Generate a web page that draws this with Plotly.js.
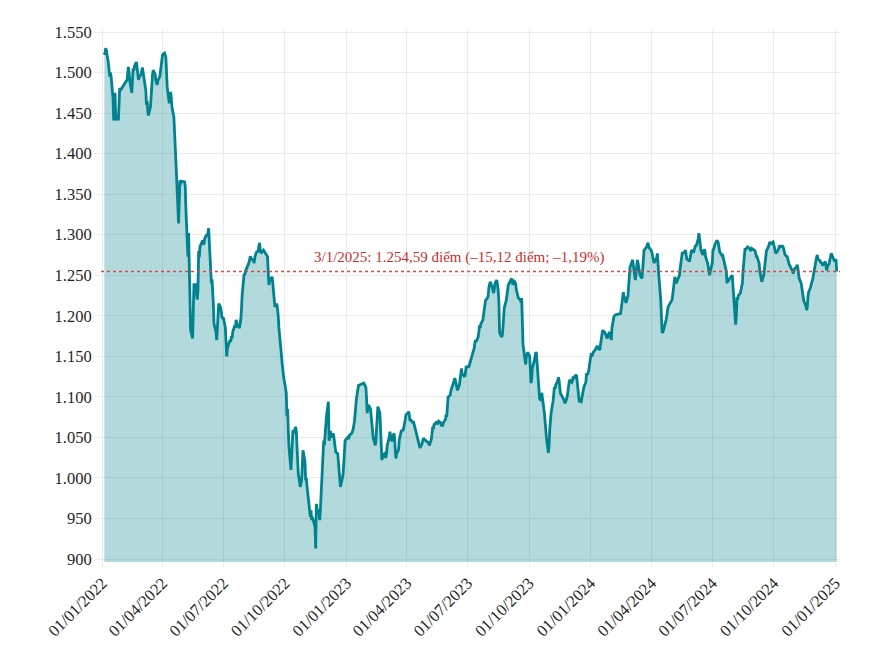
<!DOCTYPE html>
<html>
<head>
<meta charset="utf-8">
<script src="https://cdn.plot.ly/plotly-3.0.1.min.js"></script>
<style>html,body{margin:0;padding:0;background:#fff}#chart{width:888px;height:663px}</style>
</head>
<body>
<div id="chart"></div>
<script>
// VN-Index daily close
const days2022 = ['01-04','01-05','01-06','01-07','01-10','01-11','01-12','01-13','01-14','01-17','01-18','01-19','01-20','01-21','01-24','01-25','01-26','01-27','01-28','02-07','02-08','02-09','02-10','02-11','02-14','02-15','02-16','02-17','02-18','02-21','02-22','02-23','02-24','02-25','02-28','03-01','03-02','03-03','03-04','03-07','03-08','03-09','03-10','03-11','03-14','03-15','03-16','03-17','03-18','03-21','03-22','03-23','03-24','03-25','03-28','03-29','03-30','03-31','04-01','04-04','04-05','04-06','04-07','04-08','04-11','04-12','04-13','04-14','04-15','04-18','04-19','04-20','04-21','04-22','04-25','04-26','04-27','04-28','04-29','05-04','05-05','05-06','05-09','05-10','05-11','05-12','05-13','05-16','05-17','05-18','05-19','05-20','05-23','05-24','05-25','05-26','05-27','05-30','05-31','06-01','06-02','06-03','06-06','06-07','06-08','06-09','06-10','06-13','06-14','06-15','06-16','06-17','06-20','06-21','06-22','06-23','06-24','06-27','06-28','06-29','06-30','07-01','07-04','07-05','07-06','07-07','07-08','07-11','07-12','07-13','07-14','07-15','07-18','07-19','07-20','07-21','07-22','07-25','07-26','07-27','07-28','07-29','08-01','08-02','08-03','08-04','08-05','08-08','08-09','08-10','08-11','08-12','08-15','08-16','08-17','08-18','08-19','08-22','08-23','08-24','08-25','08-26','08-29','08-30','09-05','09-06','09-07','09-08','09-09','09-12','09-13','09-14','09-15','09-16','09-19','09-20','09-21','09-22','09-23','09-26','09-27','09-28','09-29','09-30','10-03','10-04','10-05','10-06','10-07','10-10','10-11','10-12','10-13','10-14','10-17','10-18','10-19','10-20','10-21','10-24','10-25','10-26','10-27','10-28','10-31','11-01','11-02','11-03','11-04','11-07','11-08','11-09','11-10','11-11','11-14','11-15','11-16','11-17','11-18','11-21','11-22','11-23','11-24','11-25','11-28','11-29','11-30','12-01','12-02','12-05','12-06','12-07','12-08','12-09','12-12','12-13','12-14','12-15','12-16','12-19','12-20','12-21','12-22','12-23','12-26','12-27','12-28','12-29','12-30'];
const close2022 = [1525,1522,1530,1527,1512,1505,1495,1500,1496,1468,1441,1465,1475,1441,1448,1441,1470,1481,1478,1491,1500,1507,1500,1490,1475,1485,1505,1502,1508,1513,1505,1500,1491,1494,1498,1503,1506,1500,1495,1478,1460,1465,1452,1447,1458,1474,1488,1497,1503,1498,1490,1488,1485,1490,1495,1502,1510,1518,1522,1524,1522,1519,1500,1482,1462,1470,1476,1470,1458,1445,1420,1398,1380,1372,1314,1345,1367,1362,1366,1365,1359,1330,1273,1302,1245,1200,1182,1172,1205,1240,1228,1240,1220,1232,1280,1272,1285,1290,1293,1288,1289,1295,1300,1298,1305,1308,1290,1240,1245,1235,1215,1190,1180,1170,1185,1195,1215,1210,1200,1198,1197,1198,1185,1170,1150,1160,1162,1170,1168,1175,1172,1180,1188,1185,1195,1192,1188,1185,1190,1195,1207,1225,1252,1250,1255,1257,1257,1265,1268,1273,1272,1270,1268,1265,1272,1275,1278,1280,1285,1290,1282,1277,1280,1281,1273,1260,1238,1242,1245,1248,1240,1235,1222,1211,1215,1210,1200,1185,1178,1150,1140,1129,1125,1120,1105,1076,1085,1060,1039,1010,1030,1045,1059,1055,1063,1058,1045,1030,1005,989,992,997,1015,1034,1020,997,1000,990,981,956,952,960,948,952,945,940,913,968,962,956,948,960,980,997,1046,1040,1055,1060,1075,1094,1046,1050,1058,1050,1055,1052,1045,1039,1032,1030,1020,1005,995,989,1000,1005,1018,1030,1046];

const days2023 = ['01-03','01-04','01-05','01-06','01-09','01-10','01-11','01-12','01-13','01-16','01-17','01-18','01-19','01-27','01-30','01-31','02-01','02-02','02-03','02-06','02-07','02-08','02-09','02-10','02-13','02-14','02-15','02-16','02-17','02-20','02-21','02-22','02-23','02-24','02-27','02-28','03-01','03-02','03-03','03-06','03-07','03-08','03-09','03-10','03-13','03-14','03-15','03-16','03-17','03-20','03-21','03-22','03-23','03-24','03-27','03-28','03-29','03-30','03-31','04-03','04-04','04-05','04-06','04-07','04-10','04-11','04-12','04-13','04-14','04-17','04-18','04-19','04-20','04-21','04-24','04-25','04-26','04-27','05-04','05-05','05-08','05-09','05-10','05-11','05-12','05-15','05-16','05-17','05-18','05-19','05-22','05-23','05-24','05-25','05-26','05-29','05-30','05-31','06-01','06-02','06-05','06-06','06-07','06-08','06-09','06-12','06-13','06-14','06-15','06-16','06-19','06-20','06-21','06-22','06-23','06-26','06-27','06-28','06-29','06-30','07-03','07-04','07-05','07-06','07-07','07-10','07-11','07-12','07-13','07-14','07-17','07-18','07-19','07-20','07-21','07-24','07-25','07-26','07-27','07-28','07-31','08-01','08-02','08-03','08-04','08-07','08-08','08-09','08-10','08-11','08-14','08-15','08-16','08-17','08-18','08-21','08-22','08-23','08-24','08-25','08-28','08-29','08-30','08-31','09-05','09-06','09-07','09-08','09-11','09-12','09-13','09-14','09-15','09-18','09-19','09-20','09-21','09-22','09-25','09-26','09-27','09-28','09-29','10-02','10-03','10-04','10-05','10-06','10-09','10-10','10-11','10-12','10-13','10-16','10-17','10-18','10-19','10-20','10-23','10-24','10-25','10-26','10-27','10-30','10-31','11-01','11-02','11-03','11-06','11-07','11-08','11-09','11-10','11-13','11-14','11-15','11-16','11-17','11-20','11-21','11-22','11-23','11-24','11-27','11-28','11-29','11-30','12-01','12-04','12-05','12-06','12-07','12-08','12-11','12-12','12-13','12-14','12-15','12-18','12-19','12-20','12-21','12-22','12-25','12-26','12-27','12-28','12-29'];
const close2023 = [1050,1048,1051,1053,1055,1057,1060,1065,1070,1098,1106,1110,1114,1117,1112,1100,1080,1085,1090,1085,1075,1065,1059,1050,1040,1045,1060,1075,1088,1080,1050,1035,1022,1028,1030,1025,1026,1030,1040,1050,1057,1052,1047,1045,1055,1050,1035,1024,1030,1035,1047,1052,1055,1058,1059,1062,1068,1072,1078,1080,1082,1078,1070,1072,1068,1070,1067,1062,1058,1051,1048,1045,1040,1037,1042,1046,1049,1048,1043,1040,1048,1055,1063,1060,1066,1068,1070,1066,1068,1070,1068,1064,1065,1065,1068,1072,1078,1075,1088,1100,1102,1108,1110,1112,1115,1123,1120,1116,1110,1108,1115,1125,1130,1135,1128,1126,1125,1130,1138,1137,1137,1140,1142,1145,1149,1155,1160,1166,1170,1168,1174,1180,1188,1185,1190,1195,1200,1205,1210,1219,1222,1225,1235,1240,1242,1235,1230,1228,1232,1240,1244,1238,1230,1215,1179,1174,1176,1185,1200,1210,1219,1225,1232,1238,1246,1240,1238,1244,1240,1232,1228,1225,1222,1220,1216,1222,1200,1165,1145,1140,1150,1154,1155,1150,1130,1117,1122,1135,1145,1150,1155,1154,1140,1110,1096,1100,1095,1105,1090,1080,1070,1059,1050,1031,1040,1060,1075,1080,1095,1105,1112,1110,1115,1120,1124,1120,1110,1104,1100,1098,1095,1092,1092,1100,1108,1115,1118,1121,1118,1120,1125,1122,1125,1127,1120,1110,1100,1095,1094,1098,1105,1110,1112,1118,1129,1127,1130,1131];

const days2024 = ['01-02','01-03','01-04','01-05','01-08','01-09','01-10','01-11','01-12','01-15','01-16','01-17','01-18','01-19','01-22','01-23','01-24','01-25','01-26','01-29','01-30','01-31','02-01','02-02','02-05','02-06','02-07','02-15','02-16','02-19','02-20','02-21','02-22','02-23','02-26','02-27','02-28','02-29','03-01','03-04','03-05','03-06','03-07','03-08','03-11','03-12','03-13','03-14','03-15','03-18','03-19','03-20','03-21','03-22','03-25','03-26','03-27','03-28','03-29','04-01','04-02','04-03','04-04','04-05','04-08','04-09','04-10','04-11','04-12','04-15','04-16','04-17','04-18','04-19','04-22','04-23','04-24','04-25','04-26','05-02','05-03','05-06','05-07','05-08','05-09','05-10','05-13','05-14','05-15','05-16','05-17','05-20','05-21','05-22','05-23','05-24','05-27','05-28','05-29','05-30','05-31','06-03','06-04','06-05','06-06','06-07','06-10','06-11','06-12','06-13','06-14','06-17','06-18','06-19','06-20','06-21','06-24','06-25','06-26','06-27','06-28','07-01','07-02','07-03','07-04','07-05','07-08','07-09','07-10','07-11','07-12','07-15','07-16','07-17','07-18','07-19','07-22','07-23','07-24','07-25','07-26','07-29','07-30','07-31','08-01','08-02','08-05','08-06','08-07','08-08','08-09','08-12','08-13','08-14','08-15','08-16','08-19','08-20','08-21','08-22','08-23','08-26','08-27','08-28','08-29','09-03','09-04','09-05','09-06','09-09','09-10','09-11','09-12','09-13','09-16','09-17','09-18','09-19','09-20','09-23','09-24','09-25','09-26','09-27','09-30','10-01','10-02','10-03','10-04','10-07','10-08','10-09','10-10','10-11','10-14','10-15','10-16','10-17','10-18','10-21','10-22','10-23','10-24','10-25','10-28','10-29','10-30','10-31','11-01','11-04','11-05','11-06','11-07','11-08','11-11','11-12','11-13','11-14','11-15','11-18','11-19','11-20','11-21','11-22','11-25','11-26','11-27','11-28','11-29','12-02','12-03','12-04','12-05','12-06','12-09','12-10','12-11','12-12','12-13','12-16','12-17','12-18','12-19','12-20','12-23','12-24','12-25','12-26','12-27','12-30','12-31'];
const close2024 = [1154,1150,1152,1155,1158,1160,1162,1163,1160,1158,1165,1170,1176,1182,1180,1178,1176,1174,1172,1180,1178,1175,1170,1185,1199,1200,1201,1203,1210,1229,1225,1222,1218,1216,1225,1240,1256,1260,1262,1269,1262,1258,1250,1244,1269,1265,1260,1255,1250,1246,1260,1270,1281,1282,1285,1288,1290,1285,1284,1280,1277,1272,1268,1265,1270,1272,1277,1268,1250,1219,1205,1179,1180,1182,1190,1195,1200,1205,1211,1220,1228,1248,1245,1240,1242,1244,1250,1258,1265,1270,1277,1278,1280,1281,1275,1270,1268,1267,1272,1275,1281,1278,1282,1285,1287,1286,1295,1302,1295,1288,1281,1275,1278,1282,1280,1273,1265,1258,1252,1250,1255,1265,1281,1282,1285,1288,1293,1292,1290,1285,1279,1275,1276,1273,1270,1265,1255,1240,1245,1242,1245,1248,1250,1250,1236,1220,1189,1200,1223,1220,1225,1228,1232,1235,1240,1255,1283,1282,1283,1285,1285,1283,1280,1281,1283,1280,1275,1273,1273,1265,1256,1250,1245,1242,1250,1260,1268,1273,1280,1285,1288,1291,1290,1289,1291,1288,1285,1280,1277,1280,1283,1285,1287,1285,1286,1285,1282,1278,1275,1273,1268,1265,1263,1262,1258,1255,1252,1255,1258,1260,1263,1258,1252,1246,1240,1232,1228,1223,1218,1212,1207,1210,1222,1229,1235,1240,1242,1244,1250,1262,1268,1272,1275,1270,1268,1266,1265,1265,1262,1265,1267,1262,1256,1260,1265,1270,1275,1277,1275,1270,1267];

const days2025 = ['01-02','01-03'];
const close2025 = [1269.71,1254.59];

const lastLevel = 1254.59;
const lastLabel = '3/1/2025: 1.254,59 điểm (–15,12 điểm; –1,19%)';
const tickStart = '2022-01-01';
const tickStep = 'M3';

const dates = [].concat(
  days2022.map(d => '2022-' + d),
  days2023.map(d => '2023-' + d),
  days2024.map(d => '2024-' + d),
  days2025.map(d => '2025-' + d)
);
const values = [].concat(close2022, close2023, close2024, close2025);

const FONT = 'Liberation Serif, Times New Roman, serif';

const trace = {
  x: dates,
  y: values,
  type: 'scatter',
  mode: 'lines',
  fill: 'tozeroy',
  fillcolor: 'rgba(0,131,143,0.30)',
  line: {color: '#00838f', width: 2.8},
  hoverinfo: 'x+y'
};

const layout = {
  width: 888,
  height: 663,
  margin: {l: 101, r: 48, t: 30, b: 101},
  paper_bgcolor: '#ffffff',
  plot_bgcolor: '#ffffff',
  separators: ',.',
  showlegend: false,
  font: {family: FONT, size: 16.5, color: '#1f1f1f'},
  xaxis: {
    type: 'date',
    range: ['2021-12-30', '2025-01-08'],
    tick0: tickStart,
    dtick: tickStep,
    tickformat: '%d/%m/%Y',
    tickangle: -45,
    showgrid: true,
    gridcolor: '#ebebeb',
    gridwidth: 1,
    zeroline: false,
    showline: false,
    ticks: 'outside',
    ticklen: 4,
    tickcolor: '#ebebeb',
    tickfont: {family: FONT, size: 16.5, color: '#1f1f1f'}
  },
  yaxis: {
    range: [896.3, 1552.5],
    dtick: 50,
    tick0: 900,
    tickformat: ',.0f',
    showgrid: true,
    gridcolor: '#ebebeb',
    gridwidth: 1,
    zeroline: false,
    showline: false,
    ticks: 'outside',
    ticklen: 5,
    tickcolor: '#ebebeb',
    tickfont: {family: FONT, size: 16.5, color: '#1f1f1f'}
  },
  shapes: [{
    type: 'line',
    xref: 'paper', x0: 0, x1: 1,
    yref: 'y', y0: lastLevel, y1: lastLevel,
    line: {color: '#d24a4a', width: 1.6, dash: 'dot'}
  }],
  annotations: [{
    x: '2024-01-24',
    y: lastLevel,
    xref: 'x', yref: 'y',
    xanchor: 'right',
    yanchor: 'bottom',
    yshift: 4,
    showarrow: false,
    text: lastLabel,
    font: {family: FONT, size: 15, color: '#c8302e'}
  }]
};

Plotly.newPlot('chart', [trace], layout, {displayModeBar: false, staticPlot: true});
</script>
</body>
</html>
